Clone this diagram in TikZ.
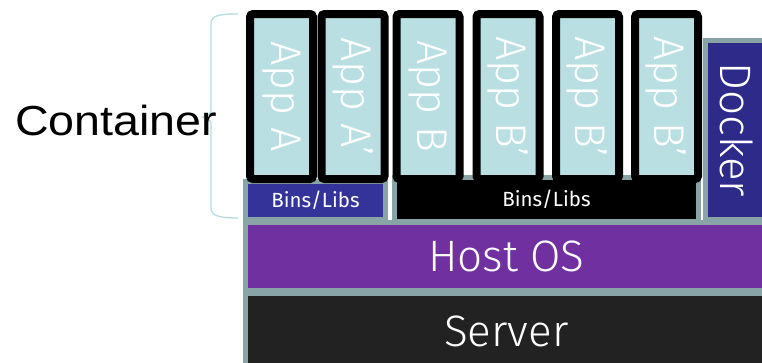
\documentclass[tikz,border=0pt]{standalone}
\usepackage{fontspec}
\setmainfont{Liberation Sans}
\newfontfamily\lightf{Fira Sans Light}
\newfontfamily\regf{Fira Sans}
\definecolor{appblue}{RGB}{186,223,226}
\definecolor{bordgray}{RGB}{137,164,166}
\definecolor{binsblue}{RGB}{51,51,153}
\definecolor{dockblue}{RGB}{46,42,138}
\definecolor{hostpurple}{RGB}{112,48,160}
\definecolor{serverblack}{RGB}{34,34,34}
\definecolor{bracecol}{RGB}{180,220,224}
\tikzset{
  layer/.style={draw=bordgray, line width=5pt, inner sep=0pt, outer sep=0pt, text=white, font=\lightf\fontsize{44}{48}\selectfont},
  binsbox/.style={layer, font=\regf\fontsize{20.5}{24}\selectfont},
  appbox/.style={draw=black, fill=appblue, line width=8pt, rounded corners=3pt, inner sep=0pt, outer sep=0pt,
    minimum width=63pt, minimum height=165pt, text=white, font=\lightf\fontsize{43}{46}\selectfont},
}
\begin{document}
\begin{tikzpicture}[x=1pt,y=-1pt]
\useasboundingbox (0,0) rectangle (762,362);
\clip (0,0) rectangle (762,362);
\fill[white] (0,0) rectangle (762,362);
% host OS and server
\node[layer, fill=hostpurple, minimum width=521.5pt, minimum height=68pt, anchor=north west] (host) at (245.5,222.5) {Host OS};
\node[layer, fill=serverblack, minimum width=521.5pt, minimum height=76.5pt, anchor=north west] (server) at (245.5,293.5) {Server};
% bins/libs
\node[binsbox, fill=binsblue, minimum width=140pt, minimum height=38pt, anchor=north west] (binsA) at (245.5,181.5) {Bins/Libs};
\node[binsbox, fill=black, minimum width=304pt, minimum height=44pt, anchor=north west] (binsB) at (394.5,177.5) {Bins/Libs};
% docker
\node[layer, fill=dockblue, minimum width=61.5pt, minimum height=179pt, anchor=north west] (docker) at (705.5,40.5) {\rotatebox{-90}{Docker}};
% apps
\node[appbox] (appA) at (281.5,96.5) {\rotatebox{-90}{App A}};
\node[appbox] (appA2) at (353,96.5) {\rotatebox{-90}{App A’}};
\node[appbox] (appB) at (428,96.5) {\rotatebox{-90}{App B}};
\node[appbox] (appB1) at (508,96.5) {\rotatebox{-90}{App B’}};
\node[appbox] (appB2) at (587.5,96.5) {\rotatebox{-90}{App B’}};
\node[appbox] (appB3) at (666.5,96.5) {\rotatebox{-90}{App B’}};
% brace
\draw[bracecol, line width=1.3pt] (238,14) .. controls (220,14) and (211,15) .. (211,24)
  -- (211,110) .. controls (211,114) and (207,116) .. (203,117)
  .. controls (207,118) and (211,120) .. (211,124)
  -- (211,208) .. controls (211,216) and (220,218) .. (238,218);
% label
\node[anchor=west, inner sep=0pt, font=\fontsize{42}{46}\selectfont, xscale=1.11] (cont) at (15,120) {Container};
\end{tikzpicture}
\end{document}
